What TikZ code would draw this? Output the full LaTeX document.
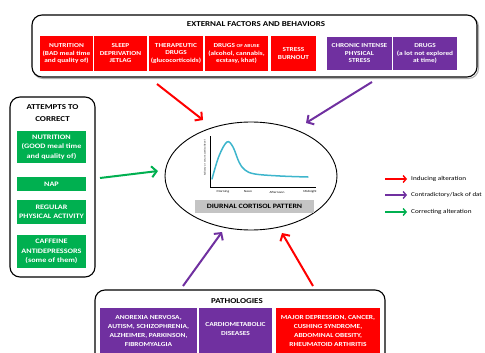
\documentclass[tikz,border=0pt]{standalone}
\usepackage{fontspec}
\setmainfont{Carlito}[FakeStretch=1.2]
\usetikzlibrary{arrows.meta,shapes.geometric}
\definecolor{fred}{HTML}{FF0000}
\definecolor{fpurple}{HTML}{7030A0}
\definecolor{fgreen}{HTML}{00B050}
\definecolor{fblue}{HTML}{3DB5CC}
\definecolor{fgray}{HTML}{C4C4C4}
\tikzset{
  frame/.style={draw=black, line width=1.1pt, rounded corners=10pt},
  cbox/.style={inner sep=0pt, text=white, align=center, font=\fontsize{6.1}{7.5}\selectfont\bfseries},
  redbox/.style={cbox, fill=fred},
  purbox/.style={cbox, fill=fpurple},
  grnbox/.style={cbox, fill=fgreen, font=\fontsize{6.8}{9.5}\selectfont\bfseries},
  patbox/.style={cbox, font=\fontsize{6.2}{9}\selectfont\bfseries},
  ttl/.style={inner sep=0pt, align=center, font=\fontsize{7.5}{12}\selectfont\bfseries},
  bigarrow/.style={line width=2pt, -{Straight Barb[length=5pt,width=11pt,line width=2pt]}},
  legarrow/.style={line width=1.4pt, -{Straight Barb[length=3pt,width=7pt,line width=1.4pt]}},
  legtext/.style={anchor=west, inner sep=0pt, font=\fontsize{6}{7}\selectfont},
  ticklab/.style={inner sep=0pt, font=\fontsize{3}{3}\selectfont}
}
\begin{document}
\begin{tikzpicture}[x=1pt,y=-1pt]
\useasboundingbox (0,0) rectangle (485,353);
\clip (0,0) rectangle (485,353);
% top frame
\draw[gray!60, line width=1.1pt, rounded corners=10pt] (33,16.5) rectangle (478.5,78.5);
\draw[frame, fill=white] (32,15) rectangle (477,77);
\node[ttl] (ext) at (256,24) {EXTERNAL FACTORS AND BEHAVIORS};
\node[redbox, minimum width=53pt, minimum height=35pt] (n1) at (66.5,53.5) {NUTRITION\\(BAD meal time\\and quality of)};
\node[redbox, minimum width=53pt, minimum height=35pt] (n2) at (120.5,53.5) {SLEEP\\DEPRIVATION\\JETLAG};
\node[redbox, minimum width=54pt, minimum height=35pt] (n3) at (176,53.5) {THERAPEUTIC\\DRUGS\\(glucocorticoids)};
\node[redbox, minimum width=63pt, minimum height=35pt] (n4) at (236.5,53.5) {DRUGS {\fontsize{4.6}{7.5}\selectfont OF ABUSE}\\(alcohol, cannabis,\\ecstasy, khat)};
\node[redbox, minimum width=45pt, minimum height=35pt] (n5) at (293.5,53.5) {STRESS\\BURNOUT};
\node[purbox, minimum width=65pt, minimum height=33pt] (p1) at (359.5,53.5) {CHRONIC INTENSE\\PHYSICAL\\STRESS};
\node[purbox, minimum width=64pt, minimum height=33pt] (p2) at (425,53.5) {DRUGS\\(a lot not explored\\at time)};
% left frame
\draw[frame] (10,97) rectangle (95,277);
\node[ttl] (att) at (52.5,113) {ATTEMPTS TO\\CORRECT};
\node[grnbox, minimum width=69pt, minimum height=32pt] (g1) at (51.5,147) {NUTRITION\\(GOOD meal time\\and quality of)};
\node[grnbox, minimum width=69pt, minimum height=14pt] (g2) at (51.5,184) {NAP};
\node[grnbox, minimum width=69pt, minimum height=24pt] (g3) at (51.5,212) {REGULAR\\PHYSICAL ACTIVITY};
\node[grnbox, minimum width=69pt, minimum height=33pt] (g4) at (51.5,251.5) {CAFFEINE\\ANTIDEPRESSORS\\(some of them)};
% central ellipse
\node[ellipse, draw=black, line width=0.9pt, minimum width=172pt, minimum height=108pt, inner sep=0pt] (ell) at (251,176) {};
\draw[line width=0.5pt] (210,136) -- (210,187) -- (316,187);
\draw[fblue, line width=1.5pt, line cap=round] plot[smooth, tension=0.6] coordinates {(212,179) (219,156) (227,142) (233,147) (239,162) (245,170) (255,174) (280,176) (308,177)};
\node[ticklab] (m1) at (223,192) {Morning};
\node[ticklab] (m2) at (248,192) {Noon};
\node[ticklab] (m3) at (277,192) {Afternoon};
\node[ticklab] (m4) at (310,192) {Midnight};
\node[ticklab, rotate=90, font=\fontsize{2.4}{3}\selectfont] (yl) at (205,158) {Salivary or serum cortisol level};
\node[fill=fgray, minimum width=119pt, minimum height=13pt, inner sep=0pt, font=\fontsize{6.6}{8}\selectfont\bfseries] (dcp) at (254.5,206.5) {DIURNAL CORTISOL PATTERN};
% bottom frame
\draw[frame] (95,290) rectangle (385,365);
\node[ttl] (pat) at (237,301) {PATHOLOGIES};
\node[patbox, fill=fpurple, minimum width=97pt, minimum height=46pt] (b1) at (148.5,331) {ANOREXIA NERVOSA,\\AUTISM, SCHIZOPHRENIA,\\ALZHEIMER, PARKINSON,\\FIBROMYALGIA};
\node[patbox, fill=fpurple, minimum width=73pt, minimum height=46pt] (b2) at (235.5,331) {};
\node[patbox] (b2t) at (235.5,328.5) {CARDIOMETABOLIC\\DISEASES};
\node[patbox, fill=fred, minimum width=104pt, minimum height=46pt] (b3) at (328,331) {MAJOR DEPRESSION, CANCER,\\CUSHING SYNDROME,\\ABDOMINAL OBESITY,\\RHEUMATOID ARTHRITIS};
% arrows
\coordinate (rts) at (157,84);  \coordinate (rte) at (203,120);
\coordinate (pts) at (372,82);  \coordinate (pte) at (306,123);
\coordinate (gs) at (100,178);  \coordinate (ge) at (158,171);
\coordinate (pbs) at (183,286); \coordinate (pbe) at (222,232);
\coordinate (rbs) at (313,286); \coordinate (rbe) at (282,233);
\draw[bigarrow, fred] (rts) -- (rte);
\draw[bigarrow, fpurple] (pts) -- (pte);
\draw[bigarrow, fgreen] (gs) -- (ge);
\draw[bigarrow, fpurple] (pbs) -- (pbe);
\draw[bigarrow, fred] (rbs) -- (rbe);
% legend
\coordinate (l1s) at (385,179); \coordinate (l1e) at (407,179);
\coordinate (l2s) at (385,195); \coordinate (l2e) at (407,195);
\coordinate (l3s) at (385,212); \coordinate (l3e) at (407,212);
\draw[legarrow, fred] (l1s) -- (l1e);
\draw[legarrow, fpurple] (l2s) -- (l2e);
\draw[legarrow, fgreen] (l3s) -- (l3e);
\node[legtext] (t1) at (411,179) {Inducing alteration};
\node[legtext, font=\fontsize{5.8}{7}\selectfont] (t2) at (411,195) {Contradictory/lack of dat};
\node[legtext] (t3) at (411,212) {Correcting alteration};
\end{tikzpicture}
\end{document}
